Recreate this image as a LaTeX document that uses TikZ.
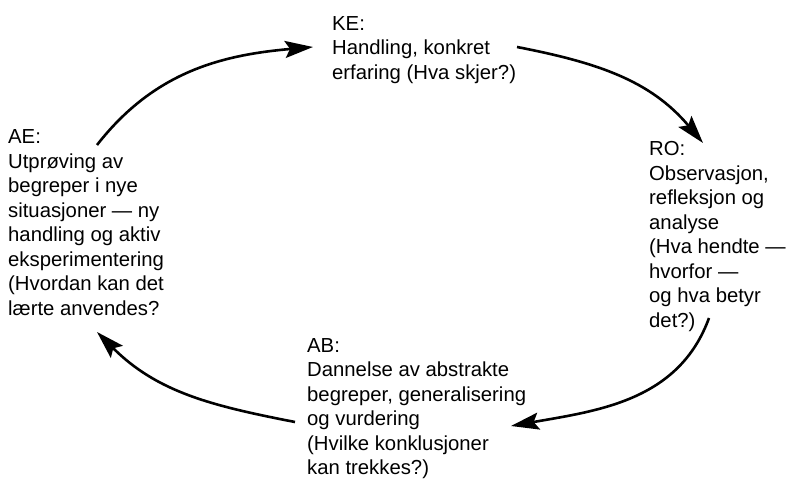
\documentclass[tikz,border=0pt]{standalone}
\usepackage{fontspec}
\setmainfont{Liberation Sans}
\usetikzlibrary{arrows.meta, positioning}

\begin{document}
\begin{tikzpicture}[x=1pt,y=1pt,
	stage/.style={anchor=north west, align=left, inner sep=0pt,
		font=\fontsize{20.3}{24.5}\selectfont},
	cycle/.style={-{Stealth[length=28pt,width=17pt,inset=5pt]}, line width=2.6pt}]
		\useasboundingbox (0,0) rectangle (788,481);
		% the four stages
		\node[stage] (ke) at (332,465) {KE:\\Handling, konkret\\erfaring (Hva skjer?)};
		\node[stage] (ro) at (649,339.5) {RO:\\Observasjon,\\refleksjon og\\analyse\\(Hva hendte —\\hvorfor —\\og hva betyr\\det?)};
		\node[stage] (ab) at (307,143) {AB:\\Dannelse av abstrakte\\begreper, generalisering\\og vurdering\\(Hvilke konklusjoner\\kan trekkes?)};
		\node[stage] (ae) at (8,351.5) {AE:\\Utprøving av\\begreper i nye\\situasjoner — ny\\handling og aktiv\\eksperimentering\\(Hvordan kan det\\lærte anvendes?};
		% arrow ends
		\coordinate (ae-out) at ([shift={(89,-15.5)}]ae.north west);
		\coordinate (ae-in) at ([shift={(89,-202.5)}]ae.north west);
		\coordinate (ke-in) at ([shift={(-19,-31)}]ke.north west);
		\coordinate (ke-out) at ([shift={(185,-31)}]ke.north west);
		\coordinate (ro-in) at ([shift={(54,-1.5)}]ro.north west);
		\coordinate (ro-out) at ([shift={(60,-176.5)}]ro.north west);
		\coordinate (ab-in) at ([shift={(204,-88)}]ab.north west);
		\coordinate (ab-out) at ([shift={(-12,-84)}]ab.north west);
		\path[cycle]
			(ae-out) edge [out=52, in=185] (ke-in)
			(ke-out) edge [out=-11, in=130] (ro-in)
			(ro-out) edge [out=250, in=10] (ab-in)
			(ab-out) edge [out=169, in=-45] (ae-in);
	\end{tikzpicture}
\end{document}
